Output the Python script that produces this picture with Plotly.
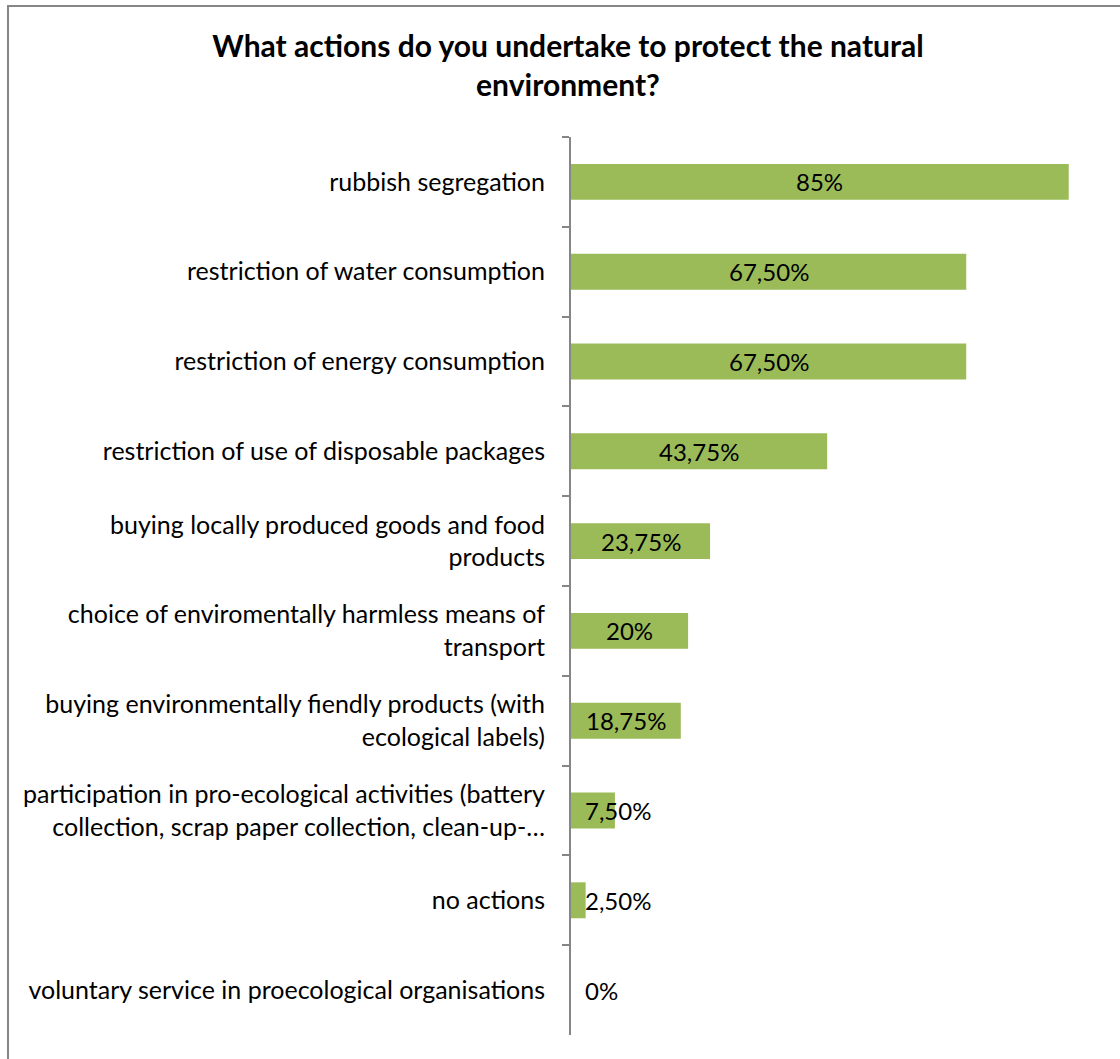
import plotly.graph_objects as go

# Survey answers, listed top to bottom
categories = [
    "rubbish segregation",
    "restriction of water consumption",
    "restriction of energy consumption",
    "restriction of use of disposable packages",
    "buying locally produced goods and food<br>products",
    "choice of enviromentally harmless means of<br>transport",
    "buying environmentally fiendly products (with<br>ecological labels)",
    "participation in pro-ecological activities (battery<br>collection, scrap paper collection, clean-up-…",
    "no actions",
    "voluntary service in proecological organisations",
]
shares = [0.85, 0.675, 0.675, 0.4375, 0.2375, 0.20, 0.1875, 0.075, 0.025, 0.0]

W, H = 1120, 1059
ML, MR, MT, MB = 571, 22, 137, 24
XMAX = 0.9
BAR_COLOR = "#9BBB59"
GRAY = "#868686"
FONT = "Lato, Carlito, Calibri, sans-serif"


def pct_label(v):
    p = round(v * 100, 2)
    if abs(p - round(p)) < 1e-9:
        return f"{int(round(p))}%"
    return f"{p:.2f}".replace(".", ",") + "%"


fig = go.Figure(
    go.Bar(
        x=shares,
        y=categories,
        orientation="h",
        marker=dict(color=BAR_COLOR, line=dict(width=0)),
        hoverinfo="skip",
    )
)

# value labels: centred inside long bars, just right of the axis for short ones
annotations = []
for cat, v in zip(categories, shares):
    if v >= 0.1:
        annotations.append(dict(x=v / 2, y=cat, xref="x", yref="y", text=pct_label(v),
                                showarrow=False, xanchor="center",
                                font=dict(family=FONT, size=24, color="#000000")))
    else:
        annotations.append(dict(x=0, y=cat, xref="x", yref="y", text=pct_label(v),
                                showarrow=False, xanchor="left", xshift=12,
                                font=dict(family=FONT, size=24, color="#000000")))

# chart frame, expressed in paper coordinates of the plot area
pw = W - ML - MR
ph = H - MT - MB
def px_to_paper_x(px):
    return (px - ML) / pw
def px_to_paper_y(py):
    return (H - MB - py) / ph

frame = dict(type="rect", xref="paper", yref="paper",
             x0=px_to_paper_x(8), x1=px_to_paper_x(1135),
             y0=px_to_paper_y(1075), y1=px_to_paper_y(6),
             line=dict(color=GRAY, width=2), fillcolor="rgba(0,0,0,0)", layer="below")

fig.update_layout(
    width=W, height=H,
    margin=dict(l=ML, r=MR, t=MT, b=MB, autoexpand=False),
    paper_bgcolor="white", plot_bgcolor="white",
    bargap=0.6,
    showlegend=False,
    title=dict(
        text="<b>What actions do you undertake to protect the natural<br>environment?</b>",
        x=568 / W, xanchor="center", xref="container",
        y=1 - 57 / H, yanchor="top", yref="container",
        font=dict(family=FONT, size=30, color="#000000"),
    ),
    xaxis=dict(range=[0, XMAX], visible=False, fixedrange=True),
    yaxis=dict(
        type="category",
        autorange="reversed",
        showline=True, linecolor=GRAY, linewidth=2,
        ticks="outside", tickson="boundaries", ticklen=7, tickcolor=GRAY, tickwidth=2,
        ticklabelstandoff=19,
        showgrid=False, zeroline=False,
        tickfont=dict(family=FONT, size=25, color="#000000"),
        fixedrange=True,
    ),
    annotations=annotations,
    shapes=[frame],
)

fig.write_html("out.html")
